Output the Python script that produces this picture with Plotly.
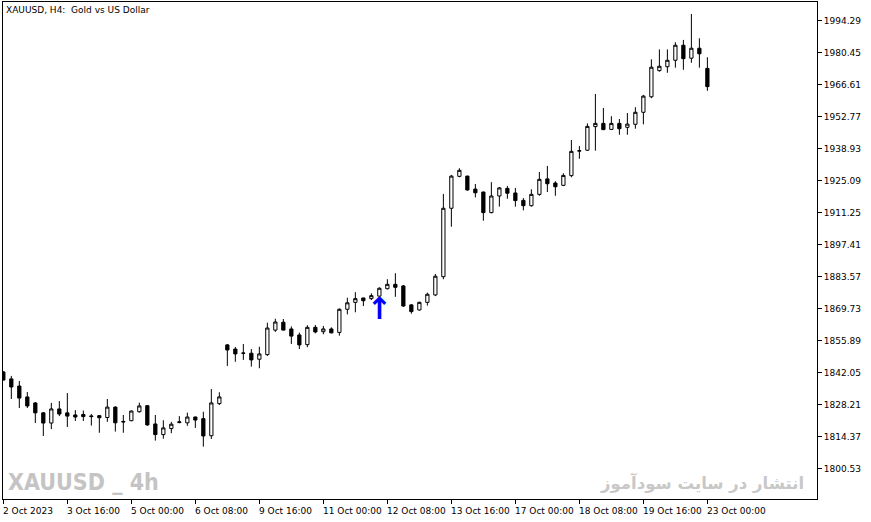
import pandas as pd
import plotly.graph_objects as go

# ---- data (XAUUSD H4) ----
bars = pd.date_range("2023-10-02 08:00", "2023-10-23 00:00", freq="4h")
bars = bars[bars.dayofweek < 5]
times = [t.strftime("%Y-%m-%d %H:%M") for t in bars]

open_ = [1842.5, 1839.5, 1836.4, 1831.7, 1829.1, 1824.8, 1820.4, 1826.5, 1824.8, 1823.9,
         1824.1, 1823.5, 1823.6, 1822.8, 1827.3, 1821.1, 1821.4, 1825.3, 1827.9, 1820.0,
         1815.4, 1818.0, 1820.6, 1820.5, 1823.0, 1822.3, 1814.9, 1828.8, 1854.2, 1852.4,
         1850.7, 1850.6, 1848.0, 1850.0, 1860.6, 1864.0, 1861.1, 1858.5, 1854.3, 1861.8,
         1859.9, 1861.1, 1859.6, 1869.6, 1872.6, 1874.5, 1874.2, 1875.3, 1878.5, 1880.4,
         1879.7, 1871.5, 1869.3, 1872.6, 1875.8, 1883.7, 1913.3, 1927.1, 1927.2, 1921.6,
         1920.3, 1911.4, 1918.6, 1921.9, 1919.9, 1916.7, 1914.4, 1919.3, 1926.0, 1924.2,
         1923.2, 1927.4, 1938.0, 1938.4, 1948.6, 1950.0, 1947.4, 1950.0, 1948.3, 1949.6,
         1954.8, 1961.5, 1972.8, 1974.5, 1977.3, 1983.8, 1978.2, 1982.5, 1973.8]
high = [1842.9, 1840.8, 1838.6, 1833.8, 1829.5, 1825.2, 1829.1, 1829.9, 1833.4, 1826.0,
        1825.8, 1824.3, 1823.9, 1830.8, 1827.6, 1823.9, 1825.8, 1829.2, 1828.2, 1823.9,
        1821.6, 1820.9, 1823.4, 1824.9, 1823.2, 1825.3, 1835.1, 1833.7, 1854.6, 1853.3,
        1854.6, 1852.4, 1853.4, 1863.8, 1865.5, 1865.4, 1862.2, 1859.5, 1862.7, 1862.8,
        1862.4, 1861.8, 1870.0, 1874.6, 1877.0, 1874.6, 1876.5, 1879.1, 1882.6, 1885.2,
        1880.1, 1871.9, 1872.9, 1876.8, 1884.9, 1919.5, 1927.7, 1930.6, 1927.4, 1923.8,
        1920.5, 1924.6, 1922.5, 1922.9, 1922.1, 1917.7, 1921.5, 1929.0, 1931.6, 1925.0,
        1928.4, 1942.8, 1940.2, 1950.0, 1962.7, 1956.7, 1953.1, 1951.9, 1954.5, 1957.0,
        1962.3, 1977.7, 1982.0, 1982.0, 1985.1, 1986.1, 1997.3, 1986.8, 1978.6]
low = [1838.8, 1830.8, 1826.9, 1826.9, 1820.4, 1814.8, 1817.8, 1823.4, 1818.7, 1821.3,
       1821.3, 1819.3, 1816.2, 1820.9, 1816.7, 1816.2, 1821.2, 1824.9, 1819.2, 1812.8,
       1813.6, 1816.0, 1820.3, 1819.2, 1818.3, 1810.2, 1813.5, 1828.2, 1845.1, 1846.9,
       1847.7, 1844.8, 1844.1, 1849.4, 1859.8, 1860.5, 1854.6, 1852.4, 1853.2, 1859.2,
       1858.8, 1859.2, 1858.2, 1867.4, 1868.3, 1871.0, 1873.6, 1875.0, 1878.2, 1875.0,
       1870.7, 1867.7, 1869.0, 1871.2, 1875.3, 1882.6, 1905.3, 1926.7, 1920.9, 1918.0,
       1907.9, 1911.1, 1914.0, 1917.4, 1914.0, 1912.4, 1914.0, 1918.7, 1920.3, 1918.7,
       1922.9, 1926.7, 1934.7, 1938.2, 1938.2, 1947.1, 1947.2, 1945.1, 1945.1, 1947.7,
       1949.6, 1960.9, 1972.4, 1971.9, 1974.1, 1973.2, 1976.2, 1974.1, 1964.1]
close = [1839.0, 1836.0, 1831.2, 1827.8, 1824.8, 1820.4, 1826.5, 1824.3, 1823.4, 1823.0,
         1823.2, 1823.2, 1822.7, 1827.3, 1820.5, 1820.9, 1825.6, 1827.8, 1819.6, 1815.4,
         1818.3, 1819.9, 1820.9, 1823.0, 1821.7, 1814.8, 1829.1, 1831.7, 1852.0, 1850.3,
         1850.6, 1847.7, 1850.3, 1861.5, 1864.1, 1860.6, 1858.0, 1854.2, 1861.8, 1859.8,
         1861.1, 1859.4, 1869.6, 1872.4, 1874.2, 1873.3, 1875.5, 1878.7, 1880.4, 1879.1,
         1871.0, 1868.6, 1872.6, 1876.1, 1883.9, 1913.3, 1927.2, 1929.7, 1921.2, 1920.0,
         1911.4, 1918.6, 1922.1, 1919.8, 1916.6, 1914.4, 1919.3, 1925.8, 1923.9, 1922.6,
         1927.5, 1937.9, 1938.2, 1948.7, 1950.0, 1947.3, 1950.0, 1947.7, 1949.7, 1954.8,
         1961.8, 1974.3, 1974.7, 1977.3, 1983.8, 1978.0, 1982.5, 1980.1, 1965.9]

buy_signal_bars = [47]

y_tick_values = [1800.53, 1814.37, 1828.21, 1842.05, 1855.89, 1869.73, 1883.57, 1897.41,
                 1911.25, 1925.09, 1938.93, 1952.77, 1966.61, 1980.45, 1994.29]
x_tick_bars = [0, 8, 16, 24, 32, 40, 48, 56, 64, 72, 80, 88]
x_tick_labels = ["2 Oct 2023", "3 Oct 16:00", "5 Oct 00:00", "6 Oct 08:00", "9 Oct 16:00",
                 "11 Oct 00:00", "12 Oct 08:00", "13 Oct 16:00", "17 Oct 00:00",
                 "18 Oct 08:00", "19 Oct 16:00", "23 Oct 00:00"]

title_text = "XAUUSD, H4:  Gold vs US Dollar"
watermark_left = "XAUUSD _ 4h"
watermark_right = "انتشار در سایت سودآموز"

FONT = "DejaVu Sans"

fig = go.Figure()
fig.add_trace(go.Candlestick(
    x=times, open=open_, high=high, low=low, close=close,
    increasing=dict(line=dict(color="#000000", width=1), fillcolor="#ffffff"),
    decreasing=dict(line=dict(color="#000000", width=1), fillcolor="#000000"),
    whiskerwidth=0, showlegend=False, hoverinfo="skip",
))

fig.add_trace(go.Scatter(
    x=[times[i] for i in buy_signal_bars],
    y=[low[i] for i in buy_signal_bars],
    mode="text", text=["<b>↑</b>"] * len(buy_signal_bars),
    textposition="bottom center",
    textfont=dict(family="DejaVu Sans", size=30, color="#0000ff"),
    showlegend=False, hoverinfo="skip",
))

annotations = []
for b, lab in zip(x_tick_bars, x_tick_labels):
    annotations.append(dict(
        x=times[b], xref="x", y=0, yref="paper", yanchor="top", xanchor="left",
        yshift=-5, xshift=-2, text=lab, showarrow=False,
        font=dict(family=FONT, size=9, color="#000000"),
    ))
annotations.append(dict(
    x=0, xref="paper", y=1, yref="paper", xanchor="left", yanchor="top",
    xshift=1, yshift=-1, text=title_text, showarrow=False,
    font=dict(family=FONT, size=9, color="#000000"),
))
annotations.append(dict(
    x=0, xref="paper", y=0, yref="paper", xanchor="left", yanchor="bottom",
    xshift=3, yshift=2, text="<b>" + watermark_left + "</b>", showarrow=False,
    font=dict(family="DejaVu Sans Condensed", size=23, color="#c4c4c4"),
))
annotations.append(dict(
    x=(806 - 3) / 814, xref="paper", y=0, yref="paper", xanchor="right", yanchor="bottom",
    yshift=3, text="<b>" + watermark_right + "</b>", showarrow=False,
    font=dict(family="DejaVu Sans", size=16.5, color="#c8c8c8"),
))

fig.update_layout(
    width=871, height=522,
    margin=dict(l=3, r=54, t=2, b=23),
    paper_bgcolor="#ffffff", plot_bgcolor="#ffffff",
    boxgap=0.42,
    annotations=annotations,
    font=dict(family=FONT, size=9, color="#000000"),
    xaxis=dict(
        type="category", range=[-0.04, 101.7],
        rangeslider=dict(visible=False),
        showgrid=False, zeroline=False,
        showline=True, linecolor="#000000", linewidth=1, mirror=True,
        tickmode="array", tickvals=[times[b] for b in x_tick_bars],
        ticktext=[""] * len(x_tick_bars),
        ticks="outside", ticklen=4, tickcolor="#000000", tickwidth=1,
        showticklabels=False,
    ),
    yaxis=dict(
        side="right", range=[1787.55, 2002.5],
        showgrid=False, zeroline=False,
        showline=True, linecolor="#000000", linewidth=1, mirror=True,
        tickmode="array", tickvals=y_tick_values,
        ticktext=[f"{v:.2f}" for v in y_tick_values],
        ticks="outside", ticklen=4, tickcolor="#000000", tickwidth=1,
        tickfont=dict(family=FONT, size=9, color="#000000"),
    ),
)

fig.write_html("out.html", config={"displayModeBar": False},
               post_script="document.body.style.margin='0';document.body.style.overflow='hidden';")
